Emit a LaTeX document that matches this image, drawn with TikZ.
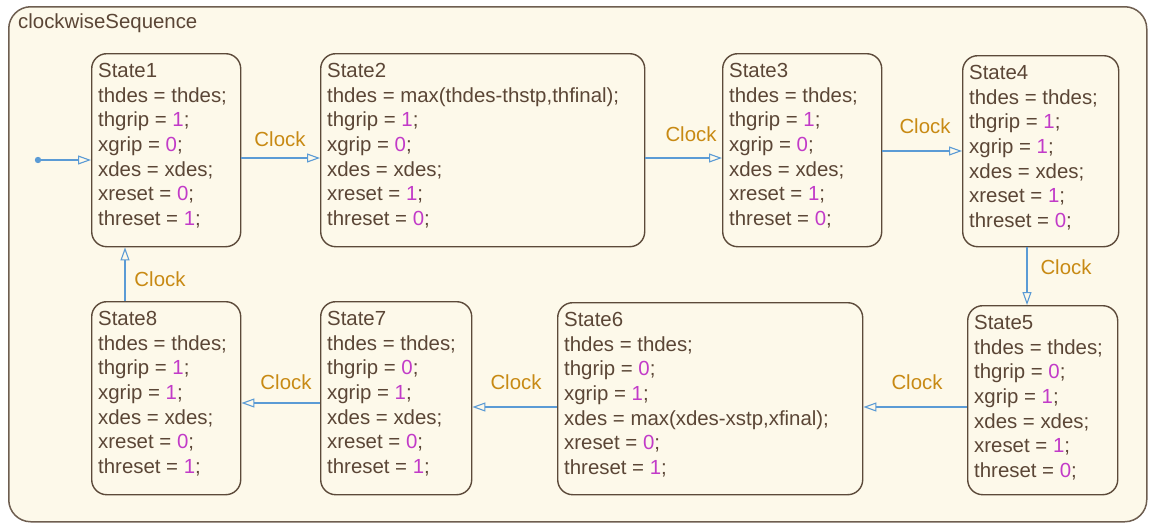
\documentclass[tikz,border=0pt]{standalone}
\usepackage{fontspec}
\setmainfont{Liberation Sans}
\usetikzlibrary{arrows.meta}
\definecolor{frameC}{HTML}{6E5E50}
\definecolor{fillC}{HTML}{FDF9EA}
\definecolor{stateC}{HTML}{5C4A3A}
\definecolor{textC}{HTML}{5B4636}
\definecolor{numC}{HTML}{C23BC8}
\definecolor{clkC}{HTML}{C88A14}
\definecolor{transC}{HTML}{5B9BD5}
\newcommand\vv[1]{\textcolor{numC}{#1}}
\newcommand\sfs{\fontsize{20.4}{24.7}\selectfont}
\tikzset{
  chart/.style={draw=frameC, fill=fillC, line width=1.5pt, rounded corners=22pt, inner sep=0pt, anchor=north west},
  statebox/.style={draw=stateC, fill=fillC, line width=1.4pt, rounded corners=15pt, inner sep=0pt, anchor=north west},
  stxt/.style={anchor=north west, align=left, font=\sfs, text=textC, inner sep=0pt, xshift=7pt, yshift=-10pt},
  trans/.style={draw=transC, line width=1.1pt, -{Triangle[open, length=13pt, width=9pt]}},
  clk/.style={text=clkC, font=\sfs, inner sep=0pt}
}
\begin{document}
\begin{tikzpicture}[x=1pt,y=-1pt]
\useasboundingbox (0,0) rectangle (1149,525);
\node[chart, minimum width=1138pt, minimum height=515pt] (chart) at (8,6) {};
\node[anchor=base west, font=\sfs, text=textC, inner sep=0pt] (title) at (18,28) {clockwiseSequence};

% states
\node[statebox, minimum width=149pt, minimum height=193pt] (s1) at (91,53) {};
\node[statebox, minimum width=324pt, minimum height=193pt] (s2) at (320,53) {};
\node[statebox, minimum width=159pt, minimum height=193pt] (s3) at (722,53) {};
\node[statebox, minimum width=156pt, minimum height=191pt] (s4) at (962,55) {};
\node[statebox, minimum width=150pt, minimum height=189pt] (s5) at (967,305) {};
\node[statebox, minimum width=305pt, minimum height=192pt] (s6) at (557,302) {};
\node[statebox, minimum width=151pt, minimum height=193pt] (s7) at (320,301) {};
\node[statebox, minimum width=149pt, minimum height=193pt] (s8) at (91,301) {};

\node[stxt] (t1) at (s1.north west) {State1\\thdes = thdes;\\thgrip = \vv{1};\\xgrip = \vv{0};\\xdes = xdes;\\xreset = \vv{0};\\threset = \vv{1};};
\node[stxt] (t2) at (s2.north west) {State2\\thdes = max(thdes-thstp,thfinal);\\thgrip = \vv{1};\\xgrip = \vv{0};\\xdes = xdes;\\xreset = \vv{1};\\threset = \vv{0};};
\node[stxt] (t3) at (s3.north west) {State3\\thdes = thdes;\\thgrip = \vv{1};\\xgrip = \vv{0};\\xdes = xdes;\\xreset = \vv{1};\\threset = \vv{0};};
\node[stxt] (t4) at (s4.north west) {State4\\thdes = thdes;\\thgrip = \vv{1};\\xgrip = \vv{1};\\xdes = xdes;\\xreset = \vv{1};\\threset = \vv{0};};
\node[stxt] (t5) at (s5.north west) {State5\\thdes = thdes;\\thgrip = \vv{0};\\xgrip = \vv{1};\\xdes = xdes;\\xreset = \vv{1};\\threset = \vv{0};};
\node[stxt] (t6) at (s6.north west) {State6\\thdes = thdes;\\thgrip = \vv{0};\\xgrip = \vv{1};\\xdes = max(xdes-xstp,xfinal);\\xreset = \vv{0};\\threset = \vv{1};};
\node[stxt] (t7) at (s7.north west) {State7\\thdes = thdes;\\thgrip = \vv{0};\\xgrip = \vv{1};\\xdes = xdes;\\xreset = \vv{0};\\threset = \vv{1};};
\node[stxt] (t8) at (s8.north west) {State8\\thdes = thdes;\\thgrip = \vv{1};\\xgrip = \vv{1};\\xdes = xdes;\\xreset = \vv{0};\\threset = \vv{1};};

% default transition
\coordinate (init) at (38,160);
\fill[transC] (init) circle (3.2pt);
\draw[trans] (init) -- (s1.west |- init);

% transitions
\draw[trans] (s1.east |- 0,158) -- (s2.west |- 0,158);
\draw[trans] (s2.east |- 0,158) -- (s3.west |- 0,158);
\draw[trans] (s3.east |- 0,151) -- (s4.west |- 0,151);
\draw[trans] (s4.south -| 1027,0) -- (s5.north -| 1027,0);
\draw[trans] (s5.west |- 0,407) -- (s6.east |- 0,407);
\draw[trans] (s6.west |- 0,407) -- (s7.east |- 0,407);
\draw[trans] (s7.west |- 0,403) -- (s8.east |- 0,403);
\draw[trans] (s8.north -| 125,0) -- (s1.south -| 125,0);

% labels
\node[clk] (c12) at (280,139) {Clock};
\node[clk] (c23) at (691,134) {Clock};
\node[clk] (c34) at (925,126) {Clock};
\node[clk] (c45) at (1066,267) {Clock};
\node[clk] (c56) at (917,382) {Clock};
\node[clk] (c67) at (516,382) {Clock};
\node[clk] (c78) at (286,382) {Clock};
\node[clk] (c81) at (160,279) {Clock};
\end{tikzpicture}
\end{document}
